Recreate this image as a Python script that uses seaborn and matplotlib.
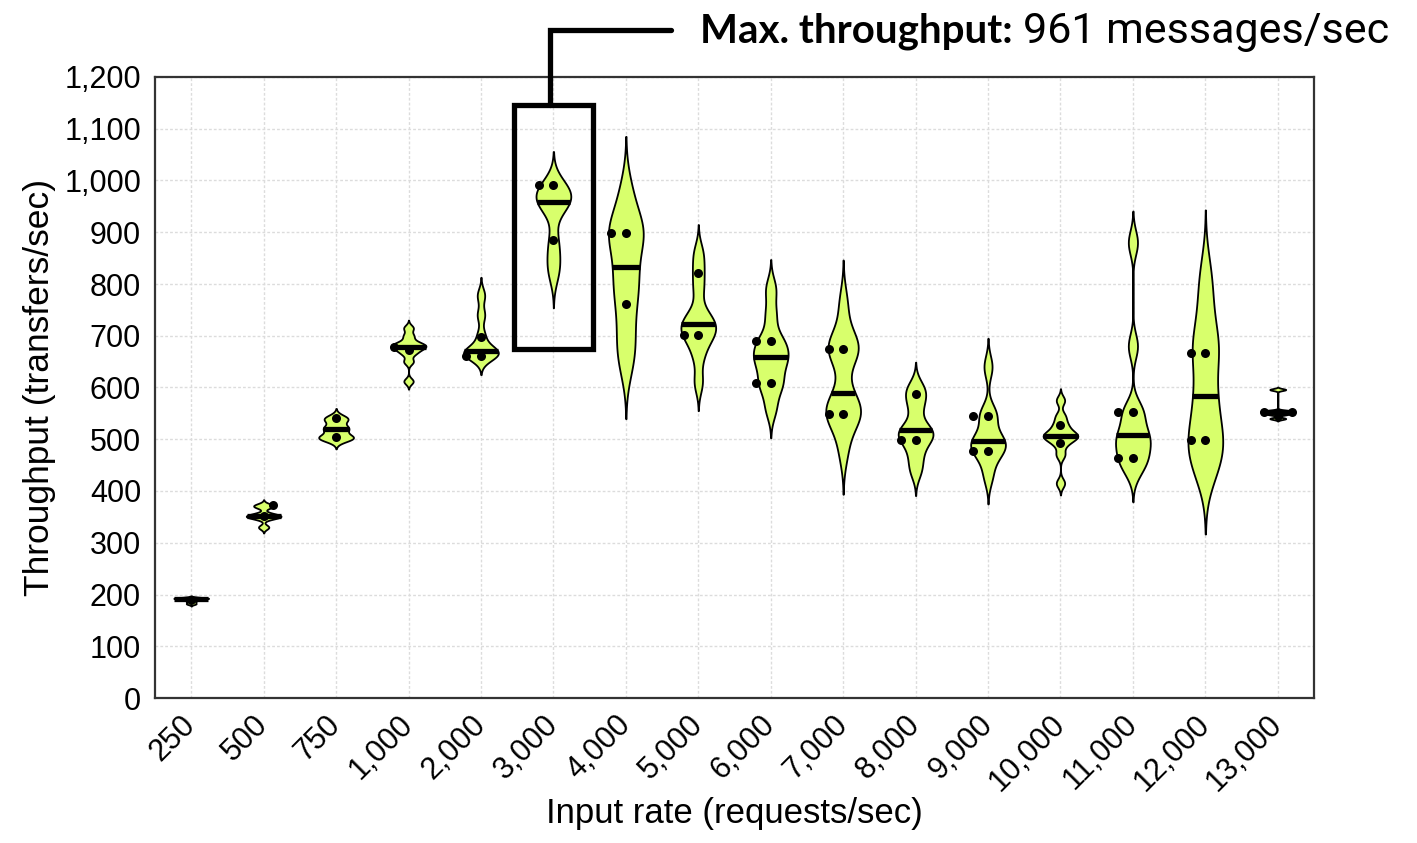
import numpy as np
import pandas as pd
import matplotlib
matplotlib.use("Agg")
import matplotlib.pyplot as plt
import seaborn as sns
from matplotlib.patches import Rectangle
from matplotlib.collections import PolyCollection
from matplotlib.ticker import MultipleLocator, FuncFormatter

# ---------------- data ----------------
categories = ["250", "500", "750", "1,000", "2,000", "3,000", "4,000", "5,000",
              "6,000", "7,000", "8,000", "9,000", "10,000", "11,000", "12,000", "13,000"]

# throughput samples per input rate (transfers/sec)
samples = [
    [182, 186, 192, 192, 193, 193],
    [330, 348, 350, 352, 355, 370, 372],
    [500, 503, 505, 520, 522, 538, 541],
    [612, 650, 665, 672, 678, 680, 682, 688, 700, 715],
    [660, 662, 668, 670, 672, 700, 740, 778],
    [820, 850, 885, 950, 958, 960, 975, 985, 990],
    [650, 700, 760, 800, 833, 898, 900, 905, 975],
    [610, 660, 690, 700, 712, 722, 728, 745, 790, 825, 860],
    [560, 605, 607, 640, 658, 660, 688, 690, 740, 790],
    [480, 540, 548, 552, 560, 590, 665, 672, 680, 690, 760],
    [440, 470, 498, 505, 518, 520, 560, 585, 600],
    [430, 470, 475, 494, 497, 500, 545, 548, 640],
    [415, 470, 490, 500, 505, 507, 510, 520, 530, 545, 575],
    [440, 462, 468, 495, 505, 510, 550, 555, 680, 880],
    [440, 455, 495, 498, 520, 580, 586, 665, 668, 700, 760, 820],
    [540, 548, 551, 553, 555, 596],
]

# individual runs shown as dots
dots = [
    [189],
    [372, 352],
    [541, 504],
    [678, 673],
    [698, 660, 660],
    [992, 992, 885],
    [898, 898, 762],
    [821, 702, 702],
    [690, 690, 608, 608],
    [674, 674, 549, 549],
    [587, 498, 498],
    [545, 545, 477, 477],
    [527, 492],
    [553, 553, 464, 464],
    [667, 667, 498, 498],
    [553, 553, 545],
]

peak_label = "961 messages/sec"

# ---------------- style ----------------
sns.set_theme(style="white")
plt.rcParams["font.family"] = ["Liberation Sans", "DejaVu Sans"]
plt.rcParams["text.color"] = "black"
plt.rcParams["axes.labelcolor"] = "black"
plt.rcParams["xtick.color"] = "black"
plt.rcParams["ytick.color"] = "black"

W, H = 1417, 843
fig = plt.figure(figsize=(W / 100, H / 100), dpi=100)
ax = fig.add_axes([155 / W, 1 - 698 / H, (1314 - 155) / W, (698 - 77) / H])

df = pd.DataFrame([(c, v) for c, vals in zip(categories, samples) for v in vals],
                  columns=["rate", "tp"])
dd = pd.DataFrame([(c, v) for c, vals in zip(categories, dots) for v in vals],
                  columns=["rate", "tp"])


def nrd0(kde):
    x = np.asarray(kde.dataset).ravel()
    sd = x.std(ddof=1)
    q75, q25 = np.percentile(x, [75, 25])
    lo = min(sd, (q75 - q25) / 1.34) if q75 > q25 else sd
    h = 0.9 * lo * len(x) ** -0.2
    return h / sd


fill = "#D8FF6C"
sns.violinplot(data=df, x="rate", y="tp", order=categories, color=fill,
               saturation=1, linecolor="black", linewidth=1.3, inner=None,
               cut=2.6, bw_method=nrd0, bw_adjust=0.7, density_norm="width",
               width=0.48, ax=ax)

# median bars spanning the violin width
polys = [c for c in ax.collections if isinstance(c, PolyCollection)]
for i, (poly, vals) in enumerate(zip(polys, samples)):
    med = np.median(vals)
    v = poly.get_paths()[0].vertices
    right = v[v[:, 0] > i + 1e-9]
    o = np.argsort(right[:, 1])
    hw = np.interp(med, right[o, 1], right[o, 0]) - i
    ax.plot([i - hw, i + hw], [med, med], color="black", lw=3.8,
            solid_capstyle="butt", zorder=4)

sns.swarmplot(data=dd, x="rate", y="tp", order=categories, color="black",
              size=6.5, linewidth=3.5, edgecolor=(0, 0, 0, 0), ax=ax, zorder=5,
              warn_thresh=1)

# axes cosmetics
ax.set_xlim(-0.5, len(categories) - 0.5)
ax.set_ylim(0, 1200)
ax.yaxis.set_major_locator(MultipleLocator(100))
ax.yaxis.set_major_formatter(FuncFormatter(lambda v, p: f"{v:,.0f}"))
ax.grid(True, color="#DCDCDC", linestyle=(0, (2, 1.5)), linewidth=1.0)
ax.set_axisbelow(True)
for s in ax.spines.values():
    s.set_visible(True)
    s.set_color("#333333")
    s.set_linewidth(1.6)
ax.tick_params(axis="both", direction="in", length=11, width=1.3,
               color="#333333", labelsize=22, labelcolor="black")
ax.tick_params(axis="y", pad=10)
ax.tick_params(axis="x", pad=16)
for lab in ax.get_xticklabels():
    lab.set_rotation(45)
    lab.set_ha("right")
    lab.set_va("center")
    lab.set_rotation_mode("anchor")

ax.set_xlabel("Input rate (requests/sec)", fontsize=25, labelpad=0)
ax.set_ylabel("Throughput (transfers/sec)", fontsize=25.5, labelpad=6)

# highlight of the maximum-throughput violin
imax = int(np.argmax([np.median(v) for v in samples]))
ax.add_patch(Rectangle((imax - 0.54, 675), 1.08, 470, fill=False,
                       edgecolor="black", linewidth=3.8, clip_on=False,
                       zorder=6))
ax.plot([imax - 0.05, imax - 0.05, imax + 1.63], [1145, 1291, 1291],
        color="black", lw=3.8, clip_on=False, zorder=6,
        solid_joinstyle="miter")

t1 = fig.text(700 / W, 1 - 31 / H, "Max. throughput:", fontsize=29,
              fontweight="bold", family=["Lato", "DejaVu Sans"],
              va="center", ha="left", color="black")
fig.canvas.draw()
bb = t1.get_window_extent(fig.canvas.get_renderer())
fig.text((bb.x1 + 10) / W, 1 - 31 / H, peak_label, fontsize=31,
         family=["Roboto", "DejaVu Sans"], va="center", ha="left",
         color="black")

fig.savefig("out.png", dpi=100)
